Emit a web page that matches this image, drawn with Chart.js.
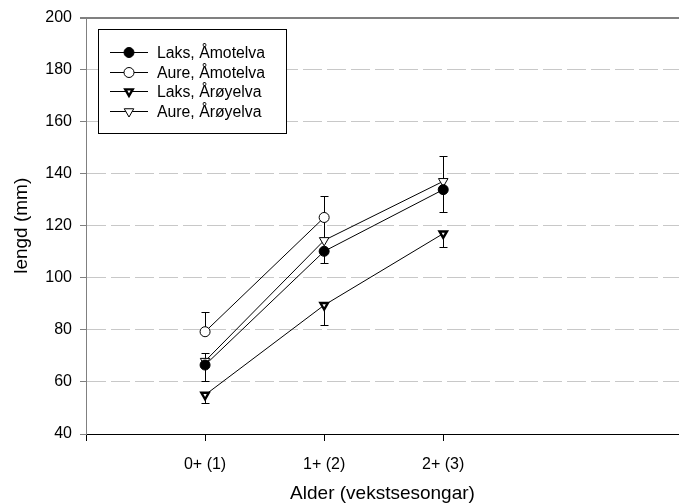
<!DOCTYPE html>
<html>
<head>
<meta charset="utf-8">
<script src="https://cdn.jsdelivr.net/npm/chart.js@4.4.0/dist/chart.umd.min.js"></script>
<style>
  html, body { margin: 0; padding: 0; background: #fff; overflow: hidden; }
  #wrap { width: 679px; height: 504px; }
</style>
</head>
<body>
<div id="wrap"><canvas id="lengdChart"></canvas></div>
<script>
// alder (vekstsesongar) på x-aksen
const ageX = [1, 2, 3];
const ageLabels = ['0+ (1)', '1+ (2)', '2+ (3)'];

// gjennomsnittleg lengd (mm) og standardavvik
const laksAmotelva = [66.5, 110.2, 133.9];
const laksAmotelvaSd = [6.3, 4.5, 8.6];
const aureAmotelva = [79.3, 123.2];
const aureAmotelvaSd = [7.6, 8.2];
const laksAroyelva = [55.0, 89.5, 117.0];
const laksAroyelvaSd = [3.2, 7.7, 5.1];
const aureAroyelva = [68.0, 114.4, 137.1];
const aureAroyelvaSd = [3.0, 8.5, 9.6];

const yMin = 40, yMax = 200, yStep = 20;
const xMin = 0, xMax = 4.98;

const FONT = "'Liberation Sans', Arial, sans-serif";

function points(values) {
    return values.map((v, i) => ({ x: ageX[i], y: v }));
}

function series(label, values, sd, side, style, filled) {
    const tri = style === 'triangle';
    // fylte trekantar: tjukk svart kant rundt ein liten kvit kjerne
    const thick = tri && filled;
    return {
        label: label,
        data: points(values),
        sd: sd,
        side: side,            // -1 = feilstrek nedover, 1 = oppover
        borderColor: '#000',
        borderWidth: 1,
        pointStyle: style,
        pointRotation: tri ? 180 : 0,
        pointRadius: thick ? 4.3 : (tri ? 5.5 : 5),
        pointHoverRadius: thick ? 4.3 : (tri ? 5.5 : 5),
        pointBorderWidth: thick ? 2.4 : 1,
        pointHoverBorderWidth: thick ? 2.4 : 1,
        pointBorderColor: '#000',
        pointBackgroundColor: (filled && !tri) ? '#000' : '#fff',
        fill: false,
        tension: 0
    };
}

// feilstrekar under punkta
const errorBars = {
    id: 'errorBars',
    beforeDatasetsDraw(chart) {
        const { ctx, scales: { x, y } } = chart;
        ctx.save();
        ctx.strokeStyle = '#000';
        ctx.lineWidth = 1;
        chart.data.datasets.forEach(ds => {
            ds.data.forEach((p, i) => {
                const px = Math.round(x.getPixelForValue(p.x)) + 0.5;
                const y0 = y.getPixelForValue(p.y);
                const y1 = Math.round(y.getPixelForValue(p.y + ds.side * ds.sd[i])) + 0.5;
                ctx.beginPath();
                ctx.moveTo(px, y0);
                ctx.lineTo(px, y1);
                ctx.moveTo(px - 4, y1);
                ctx.lineTo(px + 4, y1);
                ctx.stroke();
            });
        });
        ctx.restore();
    }
};

// forklaring i boks oppe til venstre
const boxLegend = {
    id: 'boxLegend',
    afterDraw(chart) {
        const ctx = chart.ctx;
        const left = 98, top = 29, w = 188, h = 104;
        ctx.save();
        ctx.fillStyle = '#fff';
        ctx.fillRect(left, top, w, h);
        ctx.strokeStyle = '#000';
        ctx.lineWidth = 1;
        ctx.strokeRect(left + 0.5, top + 0.5, w, h);
        ctx.font = '15.8px ' + FONT;
        ctx.textBaseline = 'middle';
        chart.data.datasets.forEach((ds, i) => {
            const yy = Math.round(52 + i * 19.7) + 0.5;
            ctx.strokeStyle = '#000';
            ctx.lineWidth = 1;
            ctx.beginPath();
            ctx.moveTo(110, yy);
            ctx.lineTo(148, yy);
            ctx.stroke();
            ctx.fillStyle = ds.pointBackgroundColor;
            ctx.lineWidth = ds.pointBorderWidth;
            Chart.helpers.drawPoint(ctx, {
                pointStyle: ds.pointStyle,
                rotation: ds.pointRotation,
                radius: ds.pointRadius,
                borderWidth: ds.pointBorderWidth
            }, 129, yy);
            ctx.fillStyle = '#000';
            ctx.fillText(ds.label, 157, yy + 1);
        });
        ctx.restore();
    }
};

new Chart(document.getElementById('lengdChart'), {
    type: 'line',
    data: {
        datasets: [
            series('Laks, Åmotelva', laksAmotelva, laksAmotelvaSd, -1, 'circle', true),
            series('Aure, Åmotelva', aureAmotelva, aureAmotelvaSd, 1, 'circle', false),
            series('Laks, Årøyelva', laksAroyelva, laksAroyelvaSd, -1, 'triangle', true),
            series('Aure, Årøyelva', aureAroyelva, aureAroyelvaSd, 1, 'triangle', false)
        ]
    },
    plugins: [errorBars, boxLegend],
    options: {
        responsive: true,
        maintainAspectRatio: false,
        animation: false,
        layout: { autoPadding: false, padding: { top: 17, right: 0, left: 0, bottom: 0 } },
        plugins: {
            legend: { display: false },
            tooltip: { enabled: false }
        },
        scales: {
            x: {
                type: 'linear',
                min: xMin,
                max: xMax,
                afterBuildTicks: s => { s.ticks = [xMin].concat(ageX).map(v => ({ value: v })); },
                afterFit: s => { s.height = 70; },
                ticks: {
                    autoSkip: false,
                    maxRotation: 0,
                    padding: 14,
                    color: '#000',
                    font: { family: FONT, size: 16 },
                    callback: v => (ageX.indexOf(v) >= 0 ? ageLabels[ageX.indexOf(v)] : '')
                },
                grid: { drawOnChartArea: false, drawTicks: true, tickLength: 7, color: '#000' },
                border: { display: true, color: '#000', width: 1 },
                title: {
                    display: true,
                    text: 'Alder (vekstsesongar)',
                    color: '#000',
                    font: { family: FONT, size: 19, lineHeight: 1.1 },
                    padding: { top: 0, bottom: 0 }
                }
            },
            y: {
                min: yMin,
                max: yMax,
                afterFit: s => { s.width = 86; },
                ticks: {
                    stepSize: yStep,
                    padding: 8,
                    color: '#000',
                    font: { family: FONT, size: 16 }
                },
                grid: {
                    drawTicks: true,
                    tickLength: 6,
                    tickColor: '#808080',
                    color: c => {
                        const v = c.tick ? c.tick.value : null;
                        if (v === yMax) return '#808080';
                        if (v === yMin) return 'rgba(0,0,0,0)';
                        return '#c8c8c8';
                    },
                    lineWidth: c => (c.tick && c.tick.value === yMax ? 2 : 1)
                },
                border: {
                    display: true,
                    color: '#808080',
                    width: 1,
                    dash: c => (c.tick && c.tick.value === yMax ? [] : [19, 5])
                },
                title: {
                    display: true,
                    text: 'lengd (mm)',
                    color: '#000',
                    font: { family: FONT, size: 19 },
                    padding: { top: 10, bottom: 0 }
                }
            }
        }
    }
});
</script>
</body>
</html>
